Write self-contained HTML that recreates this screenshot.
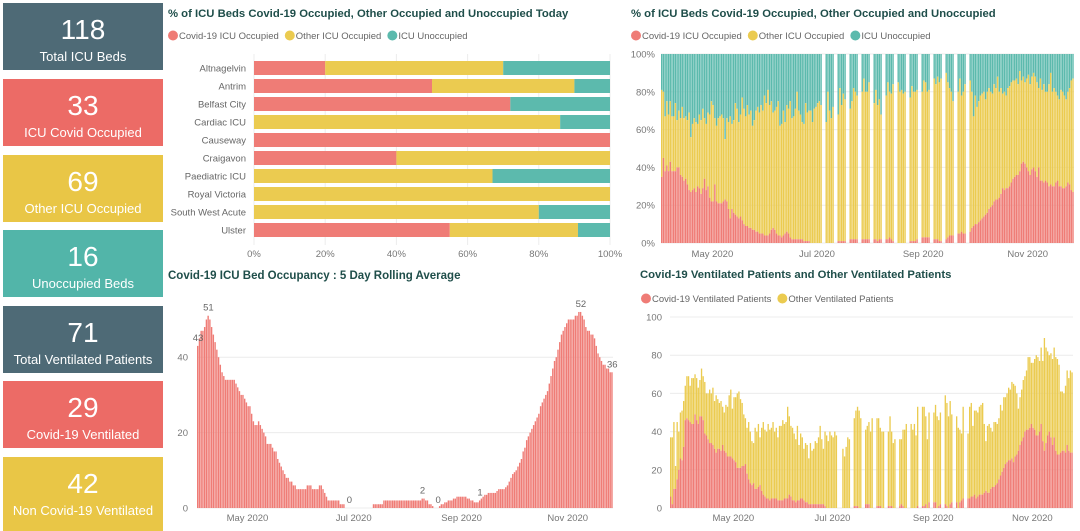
<!DOCTYPE html>
<html><head><meta charset="utf-8">
<style>
html,body{margin:0;padding:0;background:#fff;width:1080px;height:531px;overflow:hidden;font-family:"Liberation Sans",sans-serif}
.card{position:absolute;left:3px;width:160px;color:#fff;text-align:center}
.card .v{font-size:28px;line-height:30px;margin-top:12px}
.card .l{font-size:13px;line-height:16px;margin-top:4px;white-space:nowrap}
svg{position:absolute;left:0;top:0}
</style></head>
<body>
<div class="card" style="top:3px;height:67px;background:#4e6a76"><div class="v">118</div><div class="l">Total ICU Beds</div></div>
<div class="card" style="top:79px;height:67px;background:#ec6b66"><div class="v">33</div><div class="l">ICU Covid Occupied</div></div>
<div class="card" style="top:155px;height:67px;background:#e9c646"><div class="v">69</div><div class="l">Other ICU Occupied</div></div>
<div class="card" style="top:230px;height:67px;background:#52b5a9"><div class="v">16</div><div class="l">Unoccupied Beds</div></div>
<div class="card" style="top:306px;height:67px;background:#4e6a76"><div class="v">71</div><div class="l">Total Ventilated Patients</div></div>
<div class="card" style="top:381px;height:67px;background:#ec6b66"><div class="v">29</div><div class="l">Covid-19 Ventilated</div></div>
<div class="card" style="top:457px;height:74px;background:#e9c646"><div class="v">42</div><div class="l">Non Covid-19 Ventilated</div></div>

<svg id="s" width="1080" height="531" xmlns="http://www.w3.org/2000/svg" font-family="Liberation Sans, sans-serif"></svg>

<script>
// ---- Chart 1: today by hospital ----
const hospitals=["Altnagelvin","Antrim","Belfast City","Cardiac ICU","Causeway","Craigavon","Paediatric ICU","Royal Victoria","South West Acute","Ulster"];
const hospCovid=[20,50,72,0,100,40,0,0,0,55];
const hospOther=[50,40,0,86,0,60,67,100,80,36];
const hospUnocc=[30,10,28,14,0,0,33,0,20,9];
const pctTicks=[0,20,40,60,80,100];

// ---- Chart 2: ICU % over time (starts Apr 1) ----
const icuCovidPct=[35,45,38,41,38,43,38,38,38,40,40,36,35,33,34,31,28,27,28,29,27,30,29,26,29,34,28,30,24,22,22,31,22,21,21,21,22,23,22,18,13,18,16,15,14,13,14,12,10,9,9,8,8,7,7,6,6,5,5,5,4,4,4,5,7,8,7,5,4,4,3,4,5,6,5,3,2,2,2,2,2,2,2,1,1,1,1,0,0,0,0,0,0,0,
null,null,0,0,0,0,0,null,null,1,1,1,1,1,null,null,2,2,2,2,2,null,null,2,2,2,2,2,null,null,2,2,1,2,2,null,null,2,2,3,2,1,null,null,0,0,0,0,0,null,null,1,1,1,1,2,null,null,3,3,3,3,3,null,null,2,2,2,1,1,null,null,2,3,4,4,4,null,null,5,5,6,5,5,null,null,
6,8,9,10,10,11,12,13,14,15,16,18,19,20,22,23,23,24,26,29,28,29,29,30,32,34,35,36,36,38,42,43,42,40,38,36,39,40,38,35,40,33,33,32,33,32,30,31,30,30,32,33,30,30,29,29,30,32,31,28,27];
const icuOccupiedPct=[81,80,67,75,68,75,67,67,74,65,70,66,72,66,67,65,69,56,63,66,64,63,68,65,71,66,63,69,68,75,73,66,62,66,67,68,66,55,66,64,67,63,65,74,71,64,68,77,71,67,73,68,70,62,65,70,72,69,73,70,78,74,81,73,75,69,70,72,75,62,63,70,64,73,71,75,66,67,71,80,70,68,64,63,74,69,70,70,64,71,72,74,75,73,
null,null,64,80,70,66,72,null,null,68,82,73,79,76,null,null,71,75,82,80,78,null,null,80,87,80,80,85,null,null,74,81,73,76,68,null,null,78,85,80,79,84,null,null,85,80,81,79,80,null,null,77,83,80,80,81,null,null,80,86,85,80,81,null,null,87,84,88,85,87,null,null,90,85,82,80,75,null,null,80,87,78,80,84,null,null,
86,80,67,78,72,75,78,79,80,76,80,82,80,79,84,82,88,80,82,79,80,78,82,83,85,86,86,87,84,91,86,88,85,87,89,84,88,90,88,85,82,87,81,84,80,80,84,90,80,82,80,78,76,81,80,78,76,80,82,86,87];
const icuMonthLabels=["May 2020","Jul 2020","Sep 2020","Nov 2020"];
const icuMonthIdx=[30,91,153,214];

// ---- Chart 3: rolling average (starts Apr 2) ----
const rollingAvg=[43,45,47,47,48,50,51,50,48,46,44,42,40,38,36,35,34,34,34,34,34,34,33,32,31,30,30,29,28,27,27,25,23,22,22,23,22,21,20,19,17,17,17,16,15,15,13,12,11,10,9,8,8,7,7,6,6,5,5,5,5,5,5,6,6,6,5,5,5,5,6,6,5,4,3,2,2,2,2,2,2,2,1,1,1,0,0,0,0,0,0,0,0,0,0,0,0,0,0,0,0,1,1,1,1,1,1,2,2,2,2,2,2,2,2,2,2,2,2,2,2,2,2,2,2,2,2,2,2,2.5,2.5,2,2,1,1,0.5,0,0,0,0.5,1,1,1.5,1.5,2,2,2,2.5,2.5,3,3,3,3,3,3,2.5,2.5,2,2,1.5,1.5,1.5,2,2.5,3,3.5,3.5,4,4,4,4,4,4.5,5,5,5,5,5.5,6,7,8,9,9.5,10,11,12,13,15,16,18,19,20,21,22,23,24,25,27,28,29,30,31,33,35,37,39,40,42,44,46,47,48,49,50,50,50,50,51,51,52,52,51,50,48,47,47,46,46,45,43,41,40,39,38,38,37,37,36,36];
const rollLabelIdx=[0,6,87,129,138,162,220,238];
const rollLabelText=["43","51","0","2","0","1","52","36"];
const rollTicks=[0,20,40];
const rollMonthLabels=["May 2020","Jul 2020","Sep 2020","Nov 2020"];
const rollMonthIdx=[29,90,152,213];

// ---- Chart 4: ventilated (starts Mar 23) ----
const ventCovid=[6,2,10,10,15,20,26,25,32,46,47,46,45,44,44,49,46,44,48,48,46,39,38,36,34,34,33,31,29,31,31,30,33,30,29,27,27,27,26,25,24,21,21,21,22,22,23,18,15,13,12,13,10,10,11,12,9,7,6,5,5,4,5,5,5,5,4,4,4,4,5,5,5,7,6,4,4,3,4,4,5,5,4,3,3,2,2,2,2,2,2,2,2,2,2,1,0,0,0,0,0,0,0,
null,null,null,0,0,0,0,0,null,null,1,1,1,0,0,null,null,2,2,2,0,0,null,null,1,1,1,0,0,null,null,1,1,1,0,0,null,null,1,2,1,0,0,null,null,0,0,0,0,1,null,null,1,1,2,0,3,null,null,3,3,0,1,2,null,null,2,1,0,2,3,null,null,3,0,3,4,5,null,null,5,5,6,6,7,
5,6,7,7,7,8,9,8,8,10,11,11,12,13,15,17,19,21,23,24,25,25,26,24,27,28,30,33,35,37,40,41,41,42,44,42,41,38,38,40,44,35,30,34,38,40,37,33,37,30,28,28,29,30,30,29,33,30,29,29];
const ventTotal=[37,37,45,22,45,40,50,51,56,64,69,69,64,68,68,70,68,63,67,73,69,66,60,60,62,60,63,56,59,57,55,56,53,50,54,53,59,62,52,58,58,60,61,57,55,49,47,42,45,40,35,34,42,40,44,37,42,45,41,40,44,41,42,45,40,42,37,43,43,46,44,45,53,48,43,42,39,36,43,33,39,37,31,34,33,26,34,30,31,35,34,37,43,36,31,40,38,35,40,38,37,40,38,
null,null,null,31,27,32,37,36,null,null,47,51,53,51,47,null,null,41,43,45,40,47,null,null,47,47,42,40,40,null,null,40,48,40,34,36,null,null,36,36,41,41,44,null,null,44,41,44,38,53,null,null,53,53,48,36,50,null,null,50,54,48,46,50,null,null,59,55,48,56,49,null,null,48,42,41,39,53,null,null,39,53,55,43,51,
51,50,53,54,55,44,35,43,44,42,40,45,45,44,47,54,51,58,58,60,63,62,66,65,64,60,52,58,62,67,69,72,79,79,76,76,78,80,79,77,84,77,89,84,82,80,81,78,84,79,78,75,61,61,60,64,72,68,72,71];
const ventTicks=[0,20,40,60,80,100];
const ventMonthLabels=["May 2020","Jul 2020","Sep 2020","Nov 2020"];
const ventMonthIdx=[39,100,162,223];

const NS="http://www.w3.org/2000/svg";
const svg=document.getElementById('s');
function mk(tag,attrs,parent,text){const e=document.createElementNS(NS,tag);for(const k in attrs)e.setAttribute(k,attrs[k]);if(text!==undefined)e.textContent=text;(parent||svg).appendChild(e);return e;}
const RED="#ef7c76",YEL="#ebcb50",TEAL="#5cbaad",GRID="#ececec",TICK="#777",TITLE="#1f4e4a";

function title(x,y,t,name,fs){const e=mk('text',{x:x,y:y,'font-size':fs,'font-weight':'bold',fill:TITLE},svg,t);

}
function legend(x,y,items,name){const g=mk('g',{});


let cx=x;items.forEach(it=>{mk('circle',{cx:cx+5,cy:y-3.5,r:5,fill:it[1]},g);const t=mk('text',{x:cx+11,y:y,'font-size':9.5,fill:'#666'},g,it[0]);cx+=11+t.getComputedTextLength()+6;});}

// ===== Chart 1 =====
title(168,17,"% of ICU Beds Covid-19 Occupied, Other Occupied and Unoccupied Today","hospital-chart-title",11.3);
legend(168,39,[["Covid-19 ICU Occupied",RED],["Other ICU Occupied",YEL],["ICU Unoccupied",TEAL]],"hospital-chart-legend");
(function(){const x0=254,x1=610,y0=54,y1=245,rowH=18,top=61,bh=14;
const xs=v=>x0+(x1-x0)*v/100;
const g=mk('g',{});


pctTicks.forEach(t=>{mk('line',{x1:xs(t),x2:xs(t),y1:y0,y2:y1,stroke:GRID},g);const l=mk('text',{x:xs(t),y:257,'font-size':9.5,fill:TICK,'text-anchor':'middle'},g,t+'%');

});
hospitals.forEach((h,i)=>{const y=top+i*rowH;
const lab=mk('text',{x:246,y:y+10.5,'font-size':9.5,fill:'#666','text-anchor':'end'},g,h);


let acc=0;[[hospCovid[i],RED],[hospOther[i],YEL],[hospUnocc[i],TEAL]].forEach(s=>{if(s[0]>0){const r=mk('rect',{x:xs(acc),y:y,width:xs(acc+s[0])-xs(acc),height:bh,fill:s[1]},g);

}acc+=s[0];});});})();

// ===== Chart 2 =====
title(631,17,"% of ICU Beds Covid-19 Occupied, Other Occupied and Unoccupied","icu-trend-title",11.3);
legend(631,39,[["Covid-19 ICU Occupied",RED],["Other ICU Occupied",YEL],["ICU Unoccupied",TEAL]],"icu-trend-legend");
(function(){const x0=661,x1=1074,yb=243,yt=54,n=icuCovidPct.length,step=(x1-x0)/n;
const ys=v=>yb-(yb-yt)*v/100;
const g=mk('g',{});


pctTicks.forEach(t=>{mk('line',{x1:x0,x2:x1,y1:ys(t),y2:ys(t),stroke:GRID},g);const l=mk('text',{x:655,y:ys(t)+3.5,'font-size':9.5,fill:TICK,'text-anchor':'end'},g,t+'%');

});
for(let i=0;i<n;i++){const c=icuCovidPct[i],o=icuOccupiedPct[i];if(c===null||o===null)continue;const x=x0+i*step,w=step*0.82;
const a=mk('rect',{x:x,y:ys(100),width:w,height:ys(o)-ys(100),fill:TEAL},g);


const b=mk('rect',{x:x,y:ys(o),width:w,height:ys(c)-ys(o),fill:YEL},g);


const r=mk('rect',{x:x,y:ys(c),width:w,height:yb-ys(c),fill:RED},g);

}
icuMonthLabels.forEach((m,k)=>{const l=mk('text',{x:x0+icuMonthIdx[k]*step,y:257,'font-size':9.5,fill:TICK,'text-anchor':'middle'},g,m);

});})();

// ===== Chart 3 =====
title(168,279,"Covid-19 ICU Bed Occupancy : 5 Day Rolling Average","rolling-average-title",11.5);
(function(){const x0=197,x1=613,yb=508,per=3.77,n=rollingAvg.length,step=(x1-x0)/n;
const ys=v=>yb-per*v;
const g=mk('g',{});


rollTicks.forEach(t=>{mk('line',{x1:x0,x2:x1,y1:ys(t),y2:ys(t),stroke:GRID},g);const l=mk('text',{x:188,y:ys(t)+3.5,'font-size':9.5,fill:TICK,'text-anchor':'end'},g,String(t));

});
for(let i=0;i<n;i++){const v=rollingAvg[i];if(!v)continue;
const r=mk('rect',{x:x0+i*step,y:ys(v),width:step*0.8,height:per*v,fill:RED},g);

}
rollLabelIdx.forEach((idx,k)=>{const l=mk('text',{x:x0+idx*step+1,y:ys(rollingAvg[idx])-5,'font-size':9.5,fill:'#666','text-anchor':'middle'},g,rollLabelText[k]);

});
rollMonthLabels.forEach((m,k)=>{const l=mk('text',{x:x0+rollMonthIdx[k]*step,y:521,'font-size':9.5,fill:TICK,'text-anchor':'middle'},g,m);

});})();

// ===== Chart 4 =====
title(640,278,"Covid-19 Ventilated Patients and Other Ventilated Patients","ventilated-title",11.3);
legend(641,302,[["Covid-19 Ventilated Patients",RED],["Other Ventilated Patients",YEL]],"ventilated-legend");
(function(){const x0=670,x1=1073,yb=508,yt=317,n=ventTotal.length,step=(x1-x0)/n;
const ys=v=>yb-(yb-yt)*v/100;
const g=mk('g',{});


ventTicks.forEach(t=>{mk('line',{x1:x0,x2:x1,y1:ys(t),y2:ys(t),stroke:GRID},g);const l=mk('text',{x:662,y:ys(t)+3.5,'font-size':9.5,fill:TICK,'text-anchor':'end'},g,String(t));

});
for(let i=0;i<n;i++){const c=ventCovid[i],tot=ventTotal[i];if(c===null||tot===null)continue;const x=x0+i*step,w=step*0.82;
const b=mk('rect',{x:x,y:ys(tot),width:w,height:ys(c)-ys(tot),fill:YEL},g);


if(c>0){const r=mk('rect',{x:x,y:ys(c),width:w,height:yb-ys(c),fill:RED},g);

}}
ventMonthLabels.forEach((m,k)=>{const l=mk('text',{x:x0+ventMonthIdx[k]*step,y:521,'font-size':9.5,fill:TICK,'text-anchor':'middle'},g,m);

});})();
</script>
</body></html>
